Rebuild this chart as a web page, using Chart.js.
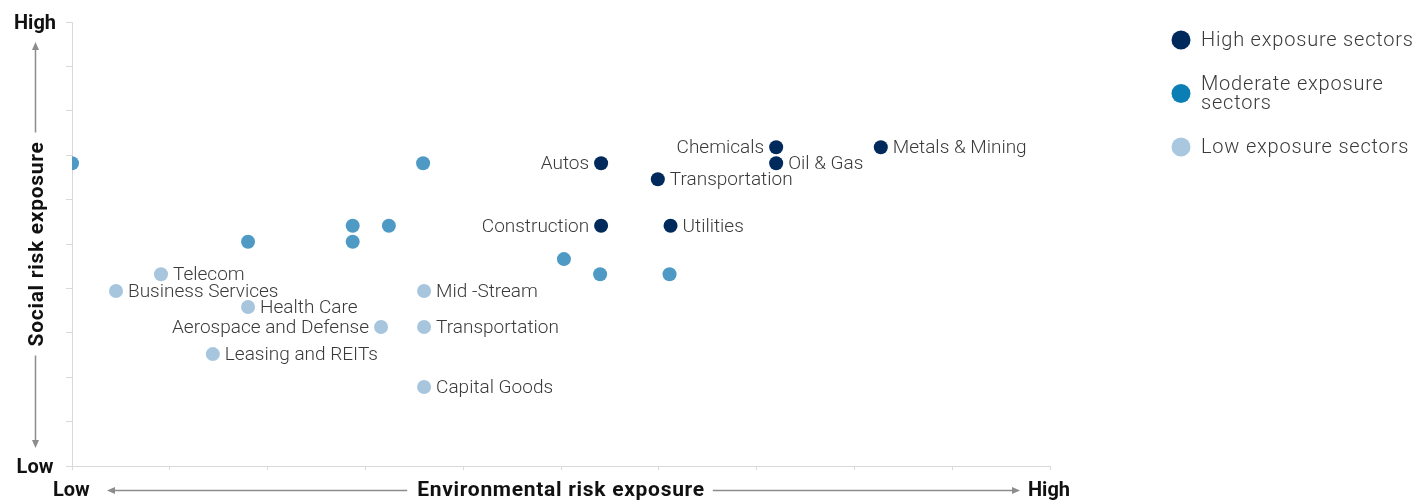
<!DOCTYPE html>
<html>
<head>
<meta charset="utf-8">
<script src="https://cdn.jsdelivr.net/npm/chart.js@4.4.0/dist/chart.umd.min.js"></script>
<style>
    html, body { margin: 0; padding: 0; background: #ffffff; }
    #wrap { width: 1419px; height: 501px; position: relative; }
</style>
</head>
<body>
<div id="wrap"><canvas id="riskChart"></canvas></div>
<script>
const highSectors = ['Autos', 'Chemicals', 'Oil & Gas', 'Metals & Mining', 'Transportation', 'Construction', 'Utilities'];
const highEnv = [5.41, 7.2, 7.2, 8.27, 5.99, 5.41, 6.12];
const highSocial = [6.82, 7.18, 6.82, 7.18, 6.46, 5.41, 5.41];

const moderateEnv = [0, 3.59, 1.8, 2.87, 2.87, 3.24, 5.03, 5.4, 6.11];
const moderateSocial = [6.82, 6.82, 5.05, 5.41, 5.05, 5.41, 4.66, 4.32, 4.32];

const lowSectors = ['Telecom', 'Business Services', 'Health Care', 'Aerospace and Defense', 'Mid -Stream', 'Transportation', 'Leasing and REITs', 'Capital Goods'];
const lowEnv = [0.91, 0.45, 1.8, 3.16, 3.6, 3.6, 1.44, 3.6];
const lowSocial = [4.32, 3.94, 3.58, 3.13, 3.94, 3.13, 2.52, 1.78];

const seriesNames = ['High exposure sectors', 'Moderate exposure sectors', 'Low exposure sectors'];
const axisEnds = ['Low', 'High'];
const xTitle = 'Environmental risk exposure';
const yTitle = 'Social risk exposure';

// Labels that sit to the left of their dot
const leftLabels = ['Autos', 'Chemicals', 'Construction', 'Aerospace and Defense'];

const COLORS = {
    high: '#002a5c',
    moderate: '#4e9ac5',
    low: '#a7c6de',
    highLegend: '#002a5c',
    moderateLegend: '#0b7fb5',
    lowLegend: '#a9c8e0',
    axis: '#d9d9d9',
    arrow: '#8c8c8c',
    text: '#3a3a3a'
};

function toPoints(xs, ys, names) {
    return xs.map((x, i) => ({ x: x, y: ys[i], name: names ? names[i] : null }));
}

// Draw sector names next to their dots
const pointLabels = {
    id: 'pointLabels',
    afterDatasetsDraw(chart) {
        const ctx = chart.ctx;
        ctx.save();
        ctx.font = '300 19px Roboto';
        ctx.fillStyle = COLORS.text;
        ctx.textBaseline = 'middle';
        chart.data.datasets.forEach((ds, di) => {
            const meta = chart.getDatasetMeta(di);
            ds.data.forEach((d, i) => {
                if (!d.name) return;
                const el = meta.data[i];
                if (leftLabels.includes(d.name)) {
                    ctx.textAlign = 'right';
                    ctx.fillText(d.name, el.x - 12, el.y + 1);
                } else {
                    ctx.textAlign = 'left';
                    ctx.fillText(d.name, el.x + 12, el.y + 1);
                }
            });
        });
        ctx.restore();
    }
};

function arrowHead(ctx, x, y, dir) {
    // dir: 'up', 'down', 'left', 'right'
    const len = 8, half = 3.5;
    ctx.beginPath();
    if (dir === 'up') { ctx.moveTo(x, y); ctx.lineTo(x - half, y + len); ctx.lineTo(x + half, y + len); }
    if (dir === 'down') { ctx.moveTo(x, y); ctx.lineTo(x - half, y - len); ctx.lineTo(x + half, y - len); }
    if (dir === 'left') { ctx.moveTo(x, y); ctx.lineTo(x + len, y - half); ctx.lineTo(x + len, y + half); }
    if (dir === 'right') { ctx.moveTo(x, y); ctx.lineTo(x - len, y - half); ctx.lineTo(x - len, y + half); }
    ctx.closePath();
    ctx.fill();
}

function wrapText(ctx, text, maxWidth) {
    const words = text.split(' ');
    const lines = [];
    let line = '';
    words.forEach(w => {
        const test = line ? line + ' ' + w : w;
        if (ctx.measureText(test).width > maxWidth && line) {
            lines.push(line);
            line = w;
        } else {
            line = test;
        }
    });
    if (line) lines.push(line);
    return lines;
}

// Axis arrows, end words, titles and the legend
const frame = {
    id: 'frame',
    afterDraw(chart) {
        const ctx = chart.ctx;
        const area = chart.chartArea;
        ctx.save();

        ctx.fillStyle = '#111111';
        ctx.font = 'bold 20px Roboto';
        ctx.textBaseline = 'alphabetic';

        // y axis ends
        ctx.textAlign = 'center';
        ctx.fillText(axisEnds[1], 35, area.top + 7);
        ctx.fillText(axisEnds[0], 35, area.bottom + 7);
        // x axis ends
        ctx.textAlign = 'left';
        ctx.fillText(axisEnds[0], 53, 496);
        ctx.fillText(axisEnds[1], 1028, 496);

        // titles, slightly spaced out
        ctx.font = 'bold 21px Roboto';
        ctx.letterSpacing = '0.7px';
        const cx = (area.left + area.right) / 2;
        const xw = ctx.measureText(xTitle).width;
        ctx.textAlign = 'center';
        ctx.fillText(xTitle, cx, 496);

        const cy = (area.top + area.bottom) / 2;
        const yw = ctx.measureText(yTitle).width;
        ctx.save();
        ctx.translate(43, cy);
        ctx.rotate(-Math.PI / 2);
        ctx.textAlign = 'center';
        ctx.fillText(yTitle, 0, 0);
        ctx.restore();
        ctx.letterSpacing = '0px';

        // arrows
        ctx.strokeStyle = COLORS.arrow;
        ctx.fillStyle = COLORS.arrow;
        ctx.lineWidth = 1.5;
        const ax = 35.5, ay = 490.5;
        ctx.beginPath();
        ctx.moveTo(ax, area.top + 24); ctx.lineTo(ax, cy - yw / 2 - 9);
        ctx.moveTo(ax, cy + yw / 2 + 9); ctx.lineTo(ax, area.bottom - 22);
        ctx.moveTo(area.left + 39, ay); ctx.lineTo(cx - xw / 2 - 10, ay);
        ctx.moveTo(cx + xw / 2 + 8, ay); ctx.lineTo(area.right - 34, ay);
        ctx.stroke();
        arrowHead(ctx, ax, area.top + 20, 'up');
        arrowHead(ctx, ax, area.bottom - 18, 'down');
        arrowHead(ctx, area.left + 35, ay, 'left');
        arrowHead(ctx, area.right - 30, ay, 'right');

        // legend
        const legendColors = [COLORS.highLegend, COLORS.moderateLegend, COLORS.lowLegend];
        const dotX = 1181, textX = 1201, lineH = 19;
        let y = 40;
        ctx.font = '300 20px Roboto';
        ctx.letterSpacing = '0.8px';
        ctx.textAlign = 'left';
        ctx.textBaseline = 'middle';
        seriesNames.forEach((name, i) => {
            const lines = wrapText(ctx, name, chart.width - textX);
            const blockH = (lines.length - 1) * lineH;
            const mid = y + blockH / 2;
            ctx.fillStyle = legendColors[i];
            ctx.beginPath();
            ctx.arc(dotX, mid, 9.5, 0, Math.PI * 2);
            ctx.fill();
            ctx.fillStyle = COLORS.text;
            lines.forEach((ln, k) => ctx.fillText(ln, textX, y + 1 + k * lineH));
            y += blockH + 44;
        });

        ctx.restore();
    }
};

const ctx = document.getElementById('riskChart').getContext('2d');

const pointStyle = {
    pointRadius: 7,
    pointHoverRadius: 7,
    pointBorderWidth: 0,
    showLine: false
};

const chart = new Chart(ctx, {
    type: 'scatter',
    data: {
        datasets: [
            Object.assign({
                label: seriesNames[2],
                data: toPoints(lowEnv, lowSocial, lowSectors),
                backgroundColor: COLORS.low,
                borderColor: COLORS.low
            }, pointStyle),
            Object.assign({
                label: seriesNames[1],
                data: toPoints(moderateEnv, moderateSocial),
                backgroundColor: COLORS.moderate,
                borderColor: COLORS.moderate
            }, pointStyle),
            Object.assign({
                label: seriesNames[0],
                data: toPoints(highEnv, highSocial, highSectors),
                backgroundColor: COLORS.high,
                borderColor: COLORS.high
            }, pointStyle)
        ]
    },
    options: {
        responsive: true,
        maintainAspectRatio: false,
        animation: false,
        events: [],
        layout: {
            padding: { left: 66, top: 22, right: 369, bottom: 31 }
        },
        plugins: {
            legend: { display: false },
            tooltip: { enabled: false }
        },
        scales: {
            x: {
                type: 'linear',
                min: 0,
                max: 10,
                ticks: { display: false, stepSize: 1 },
                grid: { drawOnChartArea: false, tickLength: 4, color: COLORS.axis },
                border: { color: COLORS.axis }
            },
            y: {
                type: 'linear',
                min: 0,
                max: 10,
                ticks: { display: false, stepSize: 1 },
                grid: { drawOnChartArea: false, tickLength: 6, color: COLORS.axis },
                border: { color: COLORS.axis }
            }
        }
    },
    plugins: [pointLabels, frame]
});
</script>
</body>
</html>
